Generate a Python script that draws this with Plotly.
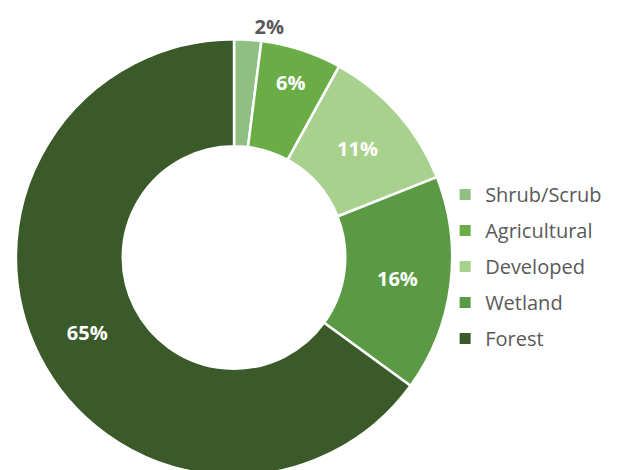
import plotly.graph_objects as go

labels = ["Shrub/Scrub", "Agricultural", "Developed", "Wetland", "Forest"]
values = [2, 6, 11, 16, 65]
colors = ["#90bf84", "#6aad47", "#a9d18e", "#5b9a44", "#3a5a29"]
text_positions = ["outside", "inside", "inside", "inside", "inside"]
text_colors = ["#595959", "white", "white", "white", "white"]

H = 482
fig = go.Figure()
fig.add_trace(go.Pie(
    labels=labels,
    values=values,
    hole=0.51,
    sort=False,
    direction="clockwise",
    rotation=0,
    marker=dict(colors=colors, line=dict(color="white", width=2.5)),
    texttemplate="%{value}%",
    textposition=text_positions,
    textfont=dict(family="Open Sans", size=20, color=text_colors, weight="bold"),
    insidetextorientation="horizontal",
    domain=dict(x=[0.0, 443 / 626], y=[1 - 467.5 / H, 1 - 28.5 / H]),
    showlegend=False,
))

# legend entries (one per category, so spacing can be controlled)
for lab, col in zip(labels, colors):
    fig.add_trace(go.Scatter(
        x=[None], y=[None], mode="markers", name=lab,
        marker=dict(symbol="square", size=11, color=col),
        legendgroup=lab, showlegend=True,
    ))

fig.update_layout(
    width=626, height=H,
    margin=dict(l=0, r=0, t=0, b=0),
    paper_bgcolor="white",
    plot_bgcolor="white",
    xaxis=dict(visible=False),
    yaxis=dict(visible=False),
    legend=dict(
        x=435 / 626, y=1 - 257 / H, xanchor="left", yanchor="middle",
        font=dict(family="Open Sans", size=20, color="#595959"),
        itemwidth=30,
        traceorder="grouped",
        tracegroupgap=7,
        bgcolor="rgba(0,0,0,0)",
    ),
)

fig.write_html("out.html")
